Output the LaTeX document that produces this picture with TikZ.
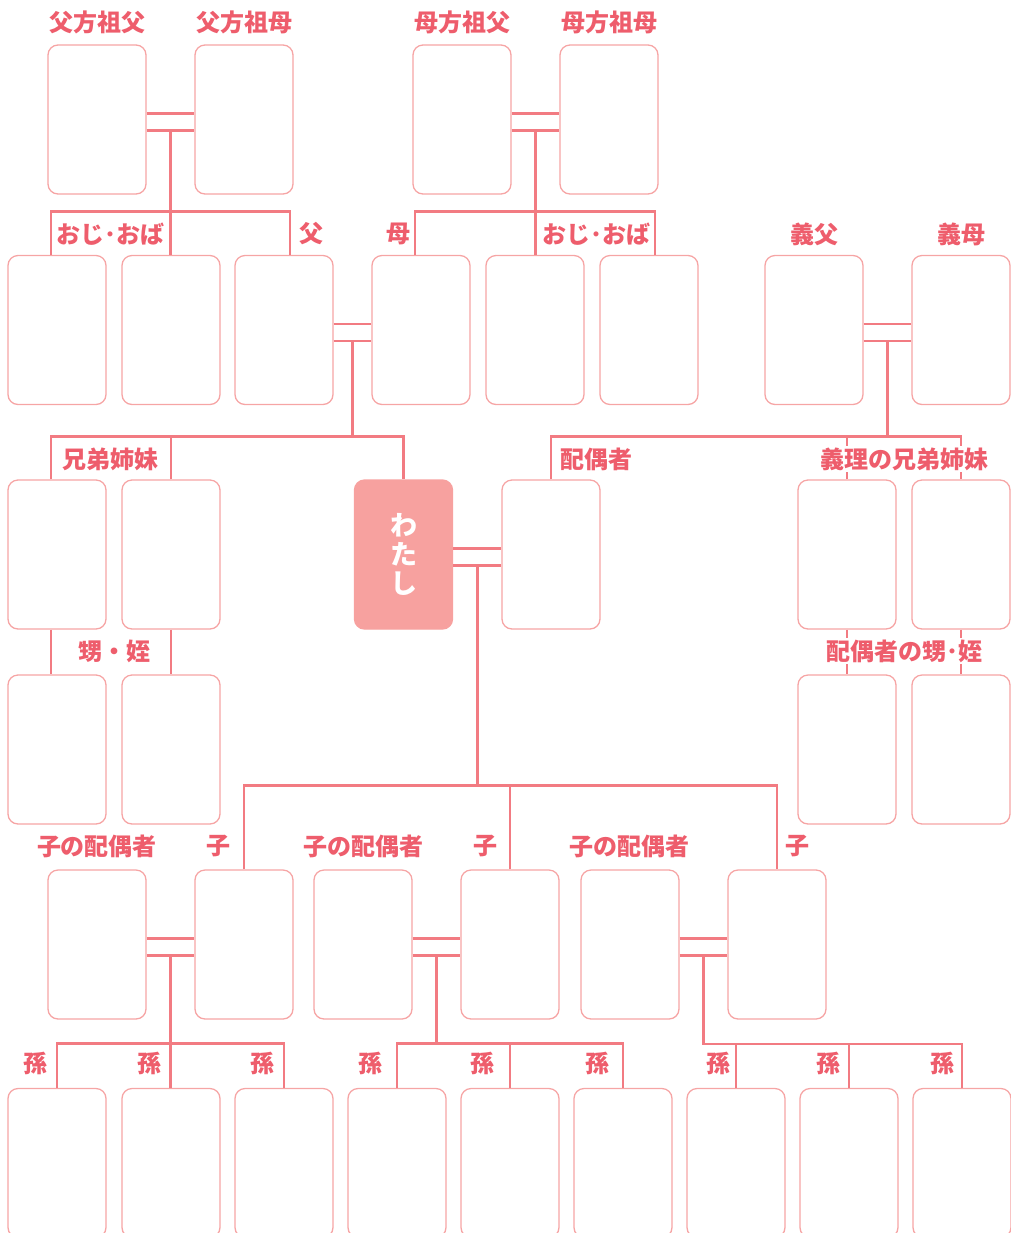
\documentclass[tikz,border=0pt]{standalone}
\usepackage{fontspec}
\setmainfont{Noto Sans CJK JP}
\usetikzlibrary{positioning,calc}
\definecolor{linkc}{HTML}{F27B82}
\definecolor{cardc}{HTML}{F6A5A5}
\definecolor{textc}{HTML}{EE5D6C}
\definecolor{mec}{HTML}{F7A19F}
\tikzset{
    card/.style={
        draw=cardc,
        line width=0.65pt,
        rounded corners=5pt,
        minimum width=49pt,
        minimum height=74.5pt,
        inner sep=0pt
    },
    link/.style={
        draw=linkc,
        line width=1.4pt
    },
    lbl/.style={
        text=textc,
        fill=white,
        inner sep=1pt,
        font=\fontsize{12}{14}\selectfont\bfseries
    }
}
\newcommand{\couple}[3]{%
  \draw[link] ([yshift=3pt]#1.east) -- ([yshift=3pt]#2.west);
  \draw[link] ([yshift=-5.5pt]#1.east) -- ([yshift=-5.5pt]#2.west);
  \coordinate (#3) at ($([yshift=-5.5pt]#1.east)!0.5!([yshift=-5.5pt]#2.west)$);
}

\begin{document}
\begin{tikzpicture}[x=0.5pt,y=-0.5pt]
  \useasboundingbox (0,0) rectangle (1011,1233);

  % grandparents
  \foreach \n/\x in {pgf/97,pgm/244,mgf/462,mgm/609}
    \node[card] (\n) at (\x,119.5) {};
  % parents, uncles, in-laws
  \foreach \n/\x in {u1/57,u2/171,fa/284,mo/421,u3/535,u4/649,ifa/814,imo/961}
    \node[card] (\n) at (\x,330) {};
  % siblings, me, spouse
  \foreach \n/\x in {s1/57,s2/171,sp/551,il1/847,il2/961}
    \node[card] (\n) at (\x,554.5) {};
  \node[card, fill=mec, draw=mec, align=center, text=white,
        font=\fontsize{13.5}{14.5}\selectfont\bfseries] (me) at (403.5,554.5) {わ\\た\\し};
  % nephews, nieces
  \foreach \n/\x in {n1/57,n2/171,in1/847,in2/961}
    \node[card] (\n) at (\x,749.5) {};
  % children and their spouses
  \foreach \n/\x in {cs1/97,c1/244,cs2/363,c2/510,cs3/630,c3/777}
    \node[card] (\n) at (\x,944.5) {};
  % grandchildren
  \foreach \i/\x in {1/57,2/171,3/284,4/397,5/510,6/623,7/736,8/849,9/962}
    \node[card] (g\i) at (\x,1163) {};

  % couples
  \couple{pgf}{pgm}{mp1}
  \couple{mgf}{mgm}{mp2}
  \couple{fa}{mo}{mp3}
  \couple{ifa}{imo}{mp4}
  \couple{me}{sp}{mp5}
  \couple{cs1}{c1}{mp6}
  \couple{cs2}{c2}{mp7}
  \couple{cs3}{c3}{mp8}

  % parents' generation
  \draw[link] ([xshift=-3pt]u1.north) -- ++(0,-43) -| ([xshift=3pt]fa.north);
  \draw[link] (mp1) -- (mp1 |- u2.north);
  \draw[link] ([xshift=-3pt]mo.north) -- ++(0,-43) -| ([xshift=3pt]u4.north);
  \draw[link] (mp2) -- (mp2 |- u3.north);

  % my generation
  \draw[link] ([xshift=-3pt]s1.north) -- ++(0,-43) -| (me.north);
  \draw[link] (s2.north) -- ++(0,-43);
  \draw[link] (mp3) -- (mp3 |- 0,437);
  \draw[link] (sp.north) -- ++(0,-43) -| (il2.north);
  \draw[link] (il1.north) -- ++(0,-43);
  \draw[link] (mp4) -- (mp4 |- 0,437);

  % nephews
  \draw[link] ([xshift=-3pt]s1.south) -- ([xshift=-3pt]n1.north);
  \draw[link] (s2.south) -- (n2.north);
  \draw[link] (il1.south) -- (in1.north);
  \draw[link] (il2.south) -- (in2.north);

  % children
  \draw[link] (c1.north) -- ++(0,-84) -| (c3.north);
  \draw[link] (c2.north) -- ++(0,-84);
  \draw[link] (mp5) -- (mp5 |- 0,786);

  % grandchildren
  \draw[link] (g1.north) -- ++(0,-44) -| (g3.north);
  \draw[link] (mp6) -- (mp6 |- g2.north);
  \draw[link] (g4.north) -- ++(0,-44) -| (g6.north);
  \draw[link] (g5.north) -- ++(0,-44);
  \draw[link] (mp7) -- (mp7 |- 0,1044);
  \draw[link] (mp8) -- (mp8 |- 0,1044) -| (g9.north);
  \draw[link] (g7.north) -- ++(0,-44);
  \draw[link] (g8.north) -- ++(0,-44);

  % labels
  \node[lbl] (l1) at (97,22) {父方祖父};
  \node[lbl] (l2) at (244,22) {父方祖母};
  \node[lbl] (l3) at (462,22) {母方祖父};
  \node[lbl] (l4) at (609,22) {母方祖母};
  \node[lbl] (l5) at (110,234) {おじ･おば};
  \node[lbl] (l6) at (311,234) {父};
  \node[lbl] (l7) at (398,234) {母};
  \node[lbl] (l8) at (596,234) {おじ･おば};
  \node[lbl] (l9) at (814,234) {義父};
  \node[lbl] (l10) at (961,234) {義母};
  \node[lbl] (l11) at (110,459) {兄弟姉妹};
  \node[lbl] (l12) at (596,459) {配偶者};
  \node[lbl] (l13) at (904,459) {義理の兄弟姉妹};
  \node[lbl] (l14) at (114,651) {甥・姪};
  \node[lbl] (l15) at (904,651) {配偶者の甥･姪};
  \foreach \i/\x in {1/97,2/363,3/629}
    \node[lbl] (ls\i) at (\x,846) {子の配偶者};
  \foreach \i/\x in {1/218,2/485,3/797}
    \node[lbl] (lc\i) at (\x,846) {子};
  \foreach \i/\x in {1/36,2/149,3/262,4/370,5/482,6/597,7/718,8/828,9/942}
    \node[lbl] (lg\i) at (\x,1063) {孫};
\end{tikzpicture}
\end{document}
